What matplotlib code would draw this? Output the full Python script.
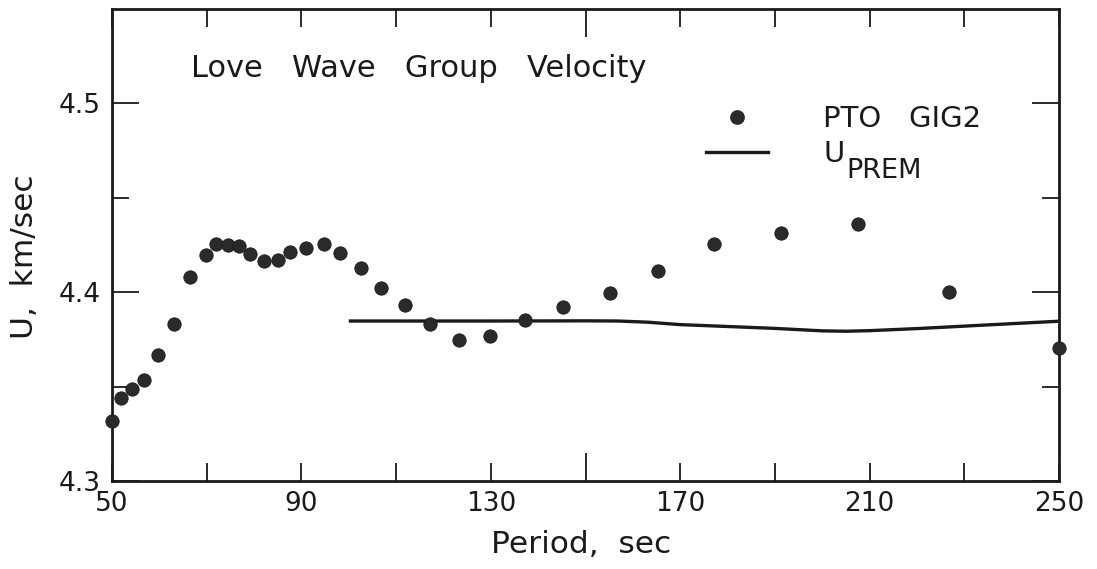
import matplotlib
matplotlib.use("Agg")
import matplotlib.pyplot as plt
from matplotlib.lines import Line2D

# Observed Love-wave group velocities (PTO, GIG2 record)
period_obs = [50.0, 51.9, 54.3, 56.8, 59.8, 63.1, 66.5, 69.8, 71.9, 74.6,
              76.8, 79.2, 82.0, 85.0, 87.6, 91.0, 94.8, 98.1, 102.5, 106.9,
              111.9, 117.2, 123.2, 129.9, 137.2, 145.3, 155.1, 165.4, 177.2,
              191.2, 207.5, 226.8, 250.0]
u_obs = [4.332, 4.344, 4.349, 4.3535, 4.367, 4.3834, 4.408, 4.4197, 4.4255,
         4.425, 4.4246, 4.4202, 4.4167, 4.4172, 4.4216, 4.4237, 4.4255,
         4.4211, 4.4132, 4.4026, 4.3935, 4.3834, 4.3746, 4.3772, 4.3856,
         4.3921, 4.3995, 4.4113, 4.4258, 4.4313, 4.436, 4.4005, 4.3707]

# PREM predicted group velocity
period_prem = [100, 130, 150, 157, 163, 170, 180, 190, 200, 205, 210, 220,
               230, 240, 250]
u_prem = [4.3849, 4.3849, 4.3850, 4.3849, 4.3843, 4.3830, 4.3820, 4.3810,
          4.3797, 4.3795, 4.3798, 4.3809, 4.3822, 4.3835, 4.3848]

xtick_major = [50, 90, 130, 170, 210, 250]
xtick_minor = [70, 110, 150, 190, 230]
ytick_major = [4.3, 4.4, 4.5]
ytick_minor = [4.35, 4.45]

plt.rcParams['font.family'] = ['DejaVu Sans']

fig = plt.figure(figsize=(10.97, 5.69), dpi=100)
ax = fig.add_axes([0.1021, 0.1538, 0.8633, 0.8304])

ink = '#1a1a1a'
ax.plot(period_prem, u_prem, color=ink, lw=2.4, solid_capstyle='butt')
ax.plot(period_obs, u_obs, 'o', color='#2a2a2a', ms=9.6, mec='#1a1a1a',
        mew=0.6, clip_on=False, zorder=3)

ax.set_xlim(50, 250)
ax.set_ylim(4.3, 4.55)

ax.set_xticks(xtick_major)
ax.set_xticks(xtick_minor, minor=True)
ax.set_yticks(ytick_major)
ax.set_yticks(ytick_minor, minor=True)
ax.set_xticklabels([str(v) for v in xtick_major])
ax.set_yticklabels([f"{v:.1f}" for v in ytick_major])

ax.tick_params(axis='x', which='both', direction='in', top=True, bottom=True,
               length=13, width=1.3, color=ink, labelsize=19, pad=7,
               labelcolor=ink)
ax.tick_params(axis='y', which='major', direction='in', left=True,
               right=True, length=19.5, width=1.3, color=ink, labelsize=19,
               pad=8, labelcolor=ink)
ax.tick_params(axis='y', which='minor', direction='in', left=True,
               right=True, length=12, width=1.3, color=ink)

# the 150 s tick is drawn longer on both edges
for t, v in zip(ax.xaxis.get_minor_ticks(), xtick_minor):
    if v == 150:
        t.tick1line.set_markersize(20)
        t.tick2line.set_markersize(20)

for s in ax.spines.values():
    s.set_linewidth(2.0)
    s.set_color(ink)

ax.set_xlabel("Period,  sec", fontsize=22.5, color=ink)
ax.xaxis.set_label_coords(0.495, -0.103, transform=ax.transAxes)
ax.xaxis.label.set_va('top')
ax.set_ylabel("U,  km/sec", fontsize=22.5, color=ink)
ax.yaxis.set_label_coords(-0.077, 0.475, transform=ax.transAxes)

ax.text(0.083, 0.856, "Love   Wave   Group   Velocity",
        transform=ax.transAxes, fontsize=22, color=ink,
        va='baseline', ha='left')

handles = [
    Line2D([], [], ls='none', marker='o', color='#2a2a2a', ms=9.6),
    Line2D([], [], color=ink, lw=2.4),
]
labels = ["PTO   GIG2", "U"]
leg = ax.legend(handles, labels, loc='upper left',
                bbox_to_anchor=(0.6, 0.852), frameon=False, fontsize=21,
                handlelength=2.1, handletextpad=1.9, labelspacing=0.25,
                labelcolor=ink)

# lowered, nearly full-size subscript on the PREM label
ax.annotate("PREM", xy=(1, 0), xycoords=leg.get_texts()[1],
            xytext=(1.5, -7), textcoords='offset points',
            fontsize=19.5, color=ink, ha='left', va='baseline', zorder=6)

fig.savefig("out.png", dpi=100)
